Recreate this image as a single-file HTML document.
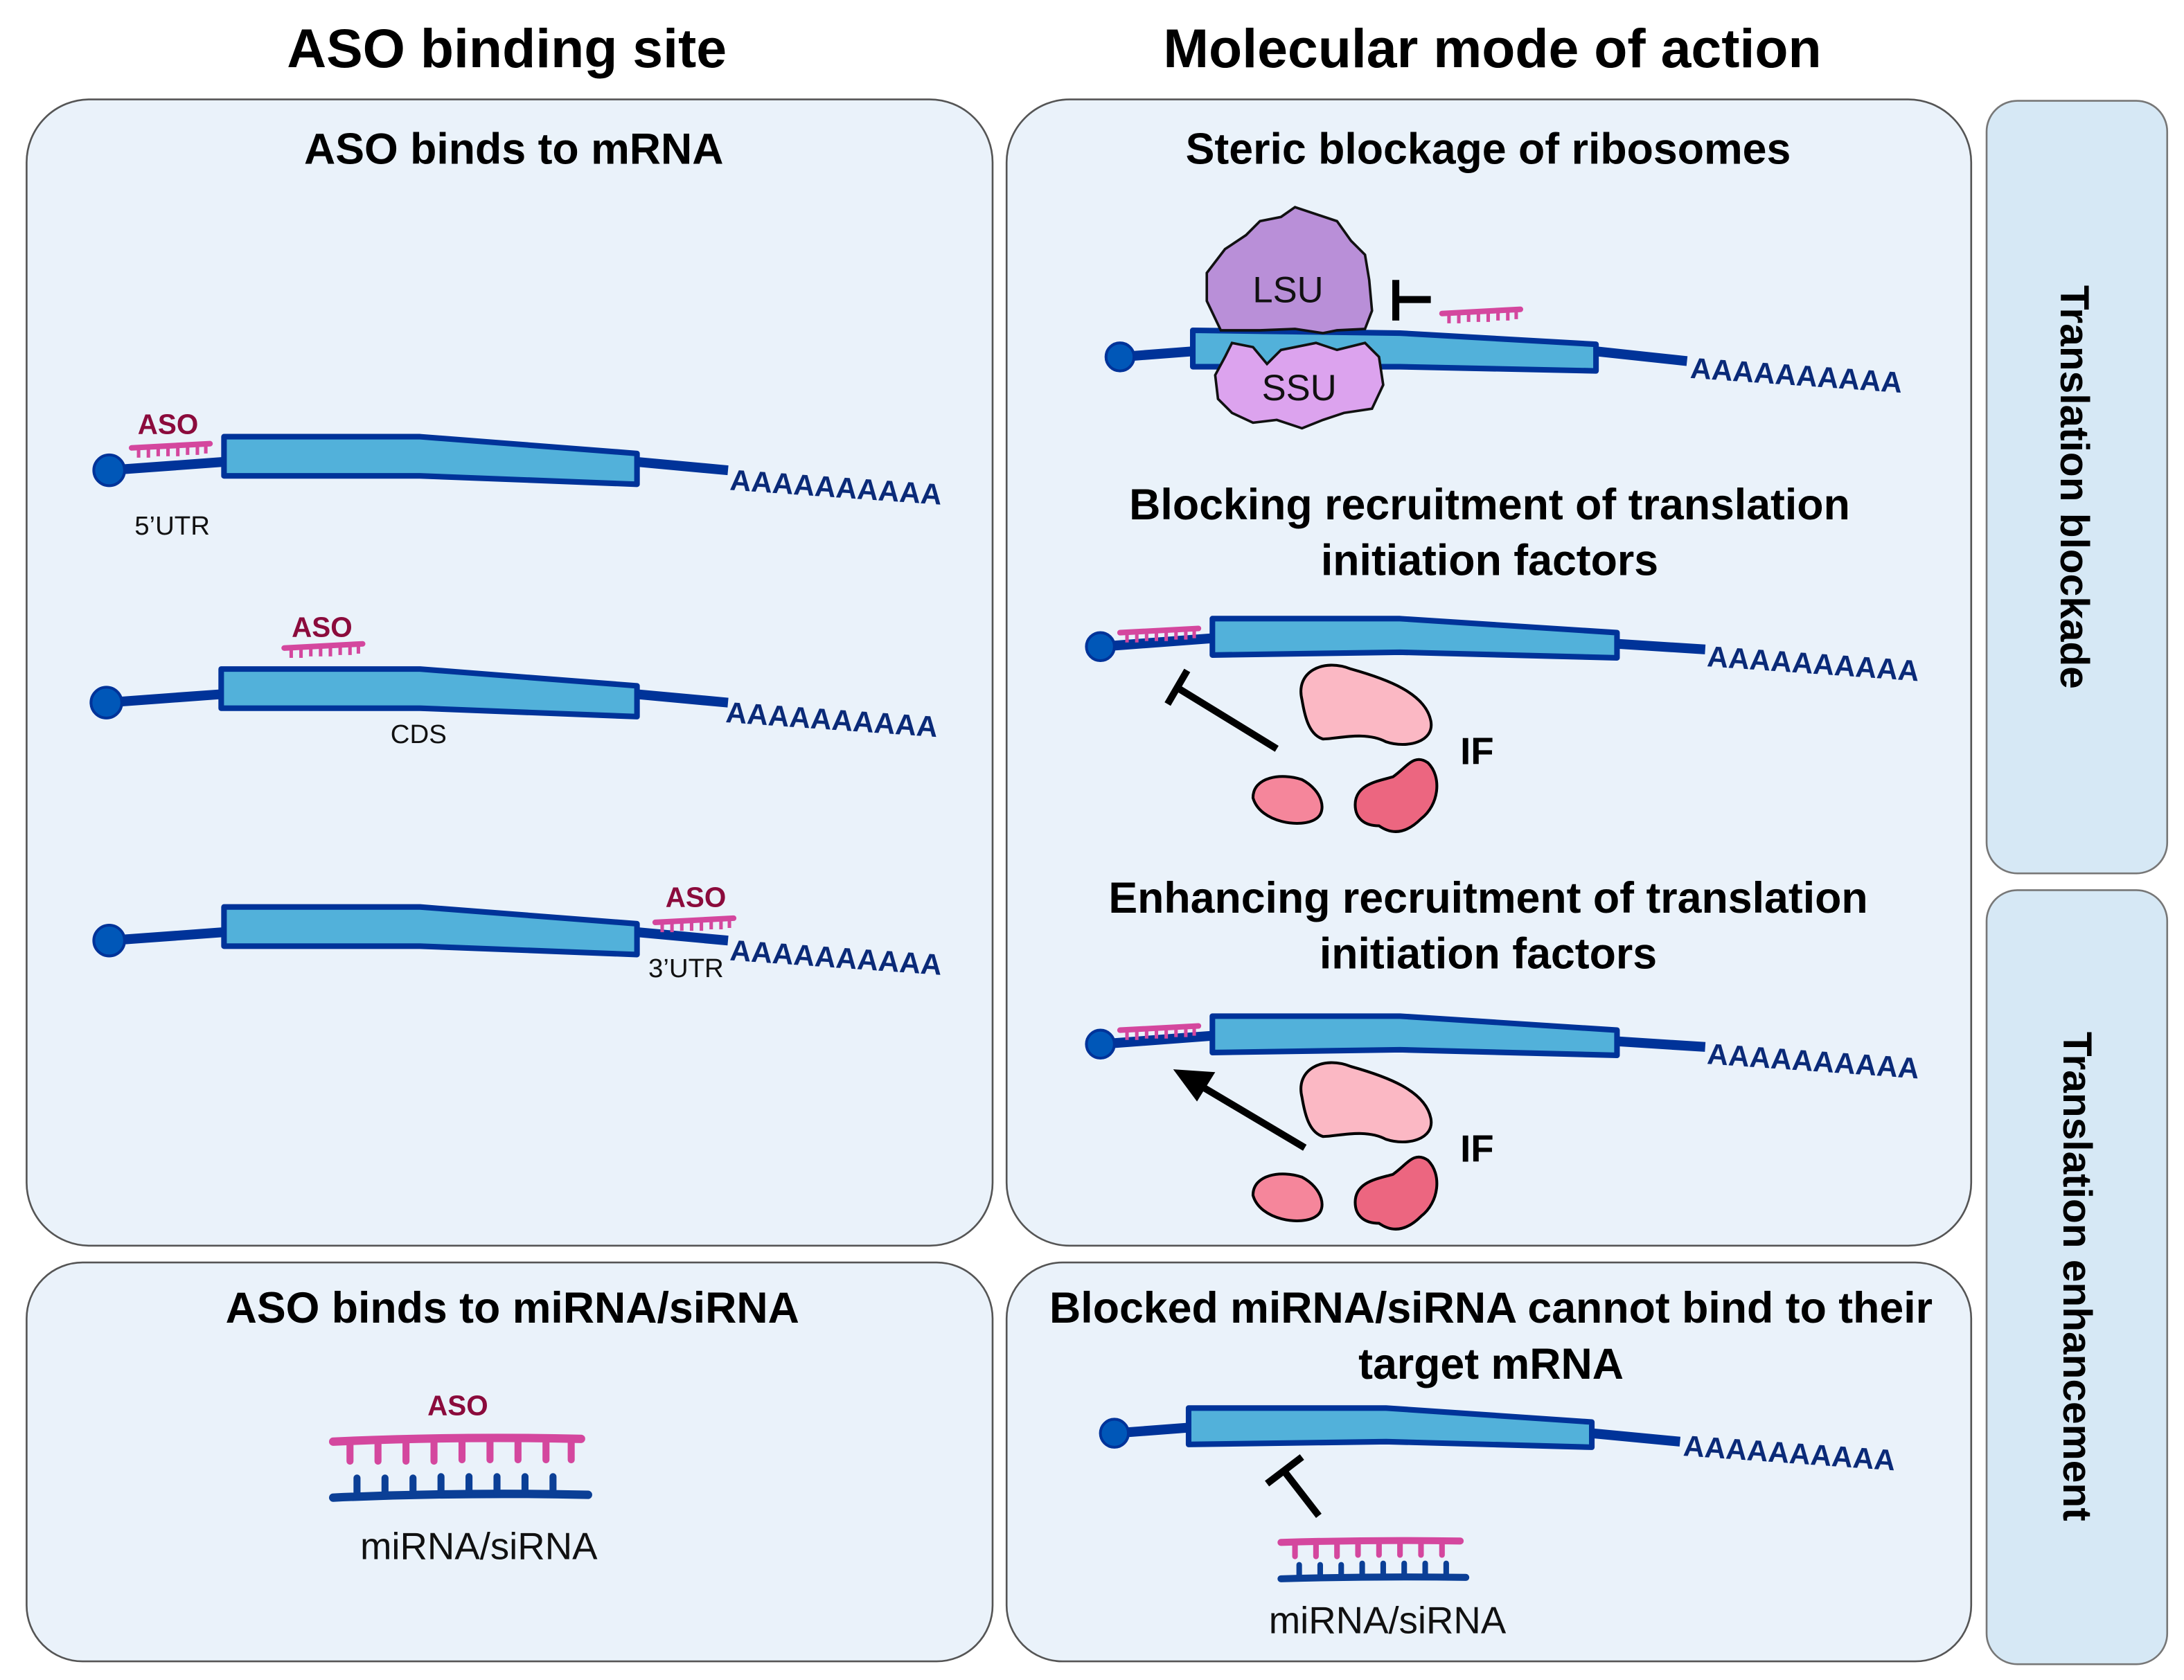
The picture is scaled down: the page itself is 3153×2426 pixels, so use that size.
<!DOCTYPE html>
<html><head><meta charset="utf-8"><style>
html,body{margin:0;padding:0;background:#fff;}
svg{display:block;}
text{font-family:"Liberation Sans","DejaVu Sans",sans-serif;}
</style></head><body>
<svg width="3153" height="2426" viewBox="0 0 1560 1200.3" xmlns="http://www.w3.org/2000/svg">
<defs>
<g id="aso"><path d="M0 0 L56 -3" stroke="#d4479e" stroke-width="4" stroke-linecap="round"/>
<path d="M5 0v7M12 0v7M19 -1v7M26 -1v7M33 -1v7M40 -2v7M47 -2v7M53 -3v7" stroke="#d4479e" stroke-width="2.5"/></g>
</defs>
<rect width="1560" height="1201" fill="#fff"/>
<g font-weight="bold" text-anchor="middle" fill="#000">
<text x="362" y="48" font-size="39">ASO binding site</text>
<text x="1066" y="48" font-size="39">Molecular mode of action</text>
</g>
<g fill="#eaf2fa" stroke="#555" stroke-width="1.3">
<rect x="19" y="71" width="690" height="819" rx="45"/>
<rect x="19" y="902" width="690" height="285" rx="40"/>
<rect x="719" y="71" width="689" height="819" rx="45"/>
<rect x="719" y="902" width="689" height="285" rx="40"/>
</g>
<g fill="#d6e8f5" stroke="#777" stroke-width="1.3">
<rect x="1419" y="72" width="129" height="552" rx="22"/>
<rect x="1419" y="636" width="129" height="553" rx="22"/>
</g>
<g font-weight="bold" font-size="29" fill="#000" text-anchor="middle">
<text transform="translate(1472,348) rotate(90)">Translation blockade</text>
<text transform="translate(1474,912) rotate(90)">Translation enhancement</text>
</g>
<g font-weight="bold" font-size="31" text-anchor="middle" fill="#000">
<text x="367" y="117">ASO binds to mRNA</text>
<text x="1063" y="117">Steric blockage of ribosomes</text>
<text x="1064" y="371">Blocking recruitment of translation</text>
<text x="1064" y="411">initiation factors</text>
<text x="1063" y="652">Enhancing recruitment of translation</text>
<text x="1063" y="692">initiation factors</text>
<text x="366" y="945">ASO binds to miRNA/siRNA</text>
<text x="1065" y="945">Blocked miRNA/siRNA cannot bind to their</text>
<text x="1065" y="985">target mRNA</text>
</g>

<g stroke="#003399" stroke-linejoin="round">
<path d="M78 336 L160 330 M455 330 L520 336" stroke-width="7" fill="none"/>
<path d="M160 312 L300 312 L455 324 L455 346 L300 340 L160 340Z" fill="#52b1da" stroke-width="4"/>
<circle cx="78" cy="336" r="11" fill="#0057b8" stroke-width="2"/>
<path d="M76 502 L158 496 M455 496 L520 502" stroke-width="7" fill="none"/>
<path d="M158 478 L300 478 L455 490 L455 512 L300 506 L158 506Z" fill="#52b1da" stroke-width="4"/>
<circle cx="76" cy="502" r="11" fill="#0057b8" stroke-width="2"/>
<path d="M78 672 L160 666 M455 666 L520 672" stroke-width="7" fill="none"/>
<path d="M160 648 L300 648 L455 660 L455 682 L300 676 L160 676Z" fill="#52b1da" stroke-width="4"/>
<circle cx="78" cy="672" r="11" fill="#0057b8" stroke-width="2"/>
<path d="M800 255 L852 251 M1140 251 L1205 258" stroke-width="7" fill="none"/>
<path d="M852 236 L1000 238 L1140 246 L1140 265 L1000 262 L852 262Z" fill="#52b1da" stroke-width="4"/>
<circle cx="800" cy="255" r="10" fill="#0057b8" stroke-width="2"/>
<path d="M786 462 L866 456 M1155 460 L1218 464" stroke-width="7" fill="none"/>
<path d="M866 442 L1000 442 L1155 452 L1155 470 L1000 466 L866 468Z" fill="#52b1da" stroke-width="4"/>
<circle cx="786" cy="462" r="10" fill="#0057b8" stroke-width="2"/>
<path d="M786 746 L866 740 M1155 744 L1218 748" stroke-width="7" fill="none"/>
<path d="M866 726 L1000 726 L1155 736 L1155 754 L1000 750 L866 752Z" fill="#52b1da" stroke-width="4"/>
<circle cx="786" cy="746" r="10" fill="#0057b8" stroke-width="2"/>
<path d="M796 1024 L849 1020 M1137 1024 L1200 1030" stroke-width="7" fill="none"/>
<path d="M849 1006 L990 1006 L1137 1016 L1137 1034 L990 1030 L849 1032Z" fill="#52b1da" stroke-width="4"/>
<circle cx="796" cy="1024" r="10" fill="#0057b8" stroke-width="2"/>
</g>
<g fill="#0a2a78" font-size="21" font-weight="bold">
<text transform="translate(521,350) rotate(4)">AAAAAAAAAA</text>
<text transform="translate(518,516) rotate(4)">AAAAAAAAAA</text>
<text transform="translate(521,686) rotate(4)">AAAAAAAAAA</text>
<text transform="translate(1207,270) rotate(4)">AAAAAAAAAA</text>
<text transform="translate(1219,476) rotate(4)">AAAAAAAAAA</text>
<text transform="translate(1219,760) rotate(4)">AAAAAAAAAA</text>
<text transform="translate(1202,1040) rotate(4)">AAAAAAAAAA</text>
</g>
<use href="#aso" x="94" y="320"/>
<use href="#aso" x="203" y="463"/>
<use href="#aso" x="468" y="659"/>
<use href="#aso" x="1030" y="224"/>
<use href="#aso" x="800" y="452"/>
<use href="#aso" x="800" y="736"/>
<g fill="#8b0b3c" font-weight="bold" font-size="20" text-anchor="middle">
<text x="120" y="310">ASO</text>
<text x="230" y="455">ASO</text>
<text x="497" y="648">ASO</text>
<text x="327" y="1011">ASO</text>
</g>
<g font-size="19" text-anchor="middle" fill="#111">
<text x="123" y="382">5’UTR</text>
<text x="299" y="531">CDS</text>
<text x="490" y="698">3’UTR</text>
</g>
<path d="M872 236 L862 215 L862 195 L875 178 L890 168 L900 158 L915 155 L925 148 L940 153 L955 158 L965 172 L975 182 L978 200 L980 222 L975 235 L955 236 L945 238 L925 235 L900 236Z" fill="#b98fd8" stroke="#111" stroke-width="1.8"/>
<path d="M875 255 L880 245 L895 248 L905 260 L915 250 L940 245 L955 250 L975 245 L985 255 L988 275 L980 292 L960 295 L945 300 L930 306 L912 300 L895 302 L880 295 L870 285 L868 268Z" fill="#dca3ee" stroke="#111" stroke-width="1.8"/>
<text x="920" y="216" font-size="26" text-anchor="middle" fill="#111">LSU</text>
<text x="928" y="286" font-size="26" text-anchor="middle" fill="#111">SSU</text>
<path d="M997 200 V229 M997 214 H1022" stroke="#000" stroke-width="5"/>
<g stroke="#000" stroke-width="2">
<path d="M930 500 C925 480 945 470 965 478 C990 485 1018 495 1022 515 C1025 530 1005 535 990 530 C975 522 955 528 945 528 C935 525 932 512 930 500Z" fill="#fbb8c4"/>
<path d="M895 570 C895 555 915 552 930 557 C945 565 948 580 940 585 C930 592 900 588 895 570Z" fill="#f5869b"/>
<path d="M968 575 C968 560 985 558 995 555 C1005 548 1010 538 1020 545 C1030 555 1028 575 1015 585 C1005 595 995 597 985 590 C975 590 968 585 968 575Z" fill="#ec6680"/>
<path d="M930 784 C925 764 945 754 965 762 C990 769 1018 779 1022 799 C1025 814 1005 819 990 814 C975 806 955 812 945 812 C935 809 932 796 930 784Z" fill="#fbb8c4"/>
<path d="M895 854 C895 839 915 836 930 841 C945 849 948 864 940 869 C930 876 900 872 895 854Z" fill="#f5869b"/>
<path d="M968 859 C968 844 985 842 995 839 C1005 832 1010 822 1020 829 C1030 839 1028 859 1015 869 C1005 879 995 881 985 874 C975 874 968 869 968 859Z" fill="#ec6680"/>
</g>
<g font-weight="bold" font-size="27" fill="#000">
<text x="1043" y="546">IF</text>
<text x="1043" y="830">IF</text>
</g>
<path d="M912 535 L842 492 M834 503 L848 479" stroke="#000" stroke-width="5"/>
<path d="M932 820 L858 776" stroke="#000" stroke-width="5"/>
<path d="M838 764 L868 766 L855 787Z" fill="#000"/>
<path d="M942 1083 L918 1052 M905 1060 L930 1041" stroke="#000" stroke-width="5"/>
<g stroke-linecap="round">
<path d="M238 1030 Q325 1026 415 1028" stroke="#d4479e" stroke-width="6" fill="none"/>
<path d="M250 1030v14M270 1030v14M290 1030v14M310 1030v14M330 1029v14M350 1029v14M370 1029v14M390 1029v14M408 1029v14" stroke="#d4479e" stroke-width="5"/>
<path d="M238 1070 Q330 1066 420 1068" stroke="#0b3f96" stroke-width="6" fill="none"/>
<path d="M255 1068v-12M275 1068v-12M295 1068v-12M315 1067v-12M335 1067v-12M355 1067v-12M375 1067v-12M395 1067v-12" stroke="#0b3f96" stroke-width="5"/>
<path d="M915 1102 Q980 1100 1043 1101" stroke="#d4479e" stroke-width="5" fill="none"/>
<path d="M925 1102v10M940 1102v10M955 1102v10M970 1101v10M985 1101v10M1000 1101v10M1015 1101v10M1030 1101v10" stroke="#d4479e" stroke-width="4"/>
<path d="M915 1128 Q980 1126 1047 1127" stroke="#0b3f96" stroke-width="5" fill="none"/>
<path d="M928 1127v-9M943 1127v-9M958 1127v-9M973 1126v-9M988 1126v-9M1003 1126v-9M1018 1126v-9M1033 1126v-9" stroke="#0b3f96" stroke-width="4"/>
</g>
<g font-size="27" text-anchor="middle" fill="#111">
<text x="342" y="1114">miRNA/siRNA</text>
<text x="991" y="1167">miRNA/siRNA</text>
</g>
</svg>
</body></html>
